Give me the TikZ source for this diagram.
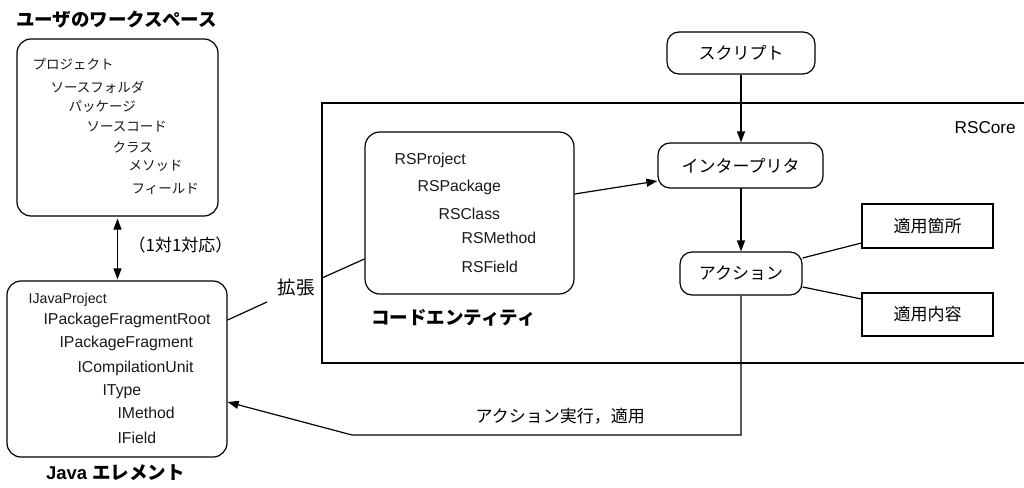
\documentclass[tikz,border=0pt]{standalone}
\usepackage{fontspec}
\setmainfont{Liberation Sans}
\newfontfamily\jp{Noto Sans CJK JP}
\usetikzlibrary{arrows.meta}

\begin{document}
\begin{tikzpicture}[x=1pt,y=-1pt,
  line width=1.2pt,
  >={Triangle[length=11pt,width=8pt]},
  rbox/.style={draw=black, rounded corners=#1, inner sep=0pt},
  sbox/.style={draw=black, inner sep=0pt},
  item/.style={anchor=west, inner sep=0pt, text=black!90},
  jsmall/.style={font=\jp\fontsize{13.5}{16}\selectfont},
  jmid/.style={font=\jp\fontsize{17}{20}\selectfont},
  jtitle/.style={font=\jp\bfseries\fontsize{18.5}{22}\selectfont},
  lat/.style={font=\fontsize{15.8}{18}\selectfont},
  latsmall/.style={font=\fontsize{14.2}{16}\selectfont},
]
\useasboundingbox (0,0) rectangle (1024,487);

% ---- RSCore frame (open to the right)
\draw (1026,103) -- (322,103) -- (322,363) -- (1026,363);
\node[anchor=west, inner sep=0pt, font=\fontsize{17.2}{20}\selectfont] (core) at (954,128) {RSCore};

% ---- user workspace
\node[jtitle, inner sep=0pt] (wstitle) at (116.5,20) {ユーザのワークスペース};
\node[rbox=14pt, minimum width=201pt, minimum height=177pt] (ws) at (117.5,127.5) {};
\node[item, jsmall] (w1) at (32,64)  {プロジェクト};
\node[item, jsmall] (w2) at (50,87)  {ソースフォルダ};
\node[item, jsmall] (w3) at (68,107) {パッケージ};
\node[item, jsmall] (w4) at (86,127) {ソースコード};
\node[item, jsmall] (w5) at (112,147) {クラス};
\node[item, jsmall] (w6) at (128,166) {メソッド};
\node[item, jsmall] (w7) at (131,189) {フィールド};

% ---- Java elements
\node[rbox=14pt, minimum width=220pt, minimum height=176pt] (java) at (117,369) {};
\node[item, latsmall] (j1) at (28,300) {IJavaProject};
\node[item, lat] (j2) at (43,320) {IPackageFragmentRoot};
\node[item, lat] (j3) at (59,343) {IPackageFragment};
\node[item, lat] (j4) at (77,368) {ICompilationUnit};
\node[item, lat] (j5) at (102,392) {IType};
\node[item, lat] (j6) at (117,413) {IMethod};
\node[item, lat] (j7) at (117,438) {IField};
\node[inner sep=0pt] (javatitle) at (115.5,473)
  {\bfseries\fontsize{18.5}{22}\selectfont Java {\jp エレメント}};

% one-to-one correspondence
\draw[<->, shorten <=2pt, shorten >=1pt] (ws.south) -- (ws.south |- java.north) coordinate (jn);
\node[anchor=west, inner sep=0pt, jmid] (corr) at (128,245) {（1対1対応）};

% ---- code entities
\node[rbox=15pt, minimum width=209pt, minimum height=162pt] (rs) at (469.5,213) {};
\node[item, lat] (r1) at (394,160) {RSProject};
\node[item, lat] (r2) at (417,187) {RSPackage};
\node[item, lat] (r3) at (438,214) {RSClass};
\node[item, lat] (r4) at (461,238) {RSMethod};
\node[item, lat] (r5) at (461,267) {RSField};
\node[jtitle, inner sep=0pt] (rstitle) at (453.5,318) {コードエンティティ};

% extension link between Java elements and code entities
\node[anchor=west, inner sep=0pt, font=\jp\fontsize{18.5}{22}\selectfont] (ext) at (277,287) {拡張};
\coordinate (ea) at (267,302);
\coordinate (eb) at (322,278);
\draw ([yshift=49pt]java.east) -- (ea);
\draw (eb) -- ([yshift=-46pt]rs.west);

% ---- script processing
\node[rbox=12pt, minimum width=148pt, minimum height=42pt, jmid] (script) at (741,53) {スクリプト};
\node[rbox=12pt, minimum width=165pt, minimum height=45pt, jmid] (interp) at (740.5,165.5) {インタープリタ};
\node[rbox=12pt, minimum width=122pt, minimum height=43pt, jmid] (action) at (741,273.5) {アクション};
\node[sbox, minimum width=131pt, minimum height=44pt, jmid] (where) at (927.5,226) {適用箇所};
\node[sbox, minimum width=131pt, minimum height=43pt, jmid] (what) at (927.5,314.5) {適用内容};

\draw[->] (script) -- (script |- interp.north);
\draw[->] (interp) -- (interp.south -| action.north) -- (action.north);
\draw[->] ([yshift=19pt]rs.east) -- ([yshift=-15.5pt]interp.west);
\draw ([yshift=15.5pt]action.east) -- ([yshift=-17pt]where.west);
\draw ([yshift=-13.5pt]action.east) -- ([yshift=15.5pt]what.west);

% action execution back to the Java elements
\coordinate (down) at (741,435);
\coordinate (bend) at (352,435);
\draw[->] (action.south) -- (down) -- (bend) -- ([yshift=-33pt]java.east);
\node[anchor=west, inner sep=0pt, jmid] (exec) at (475,416) {アクション実行，適用};

\end{tikzpicture}
\end{document}
